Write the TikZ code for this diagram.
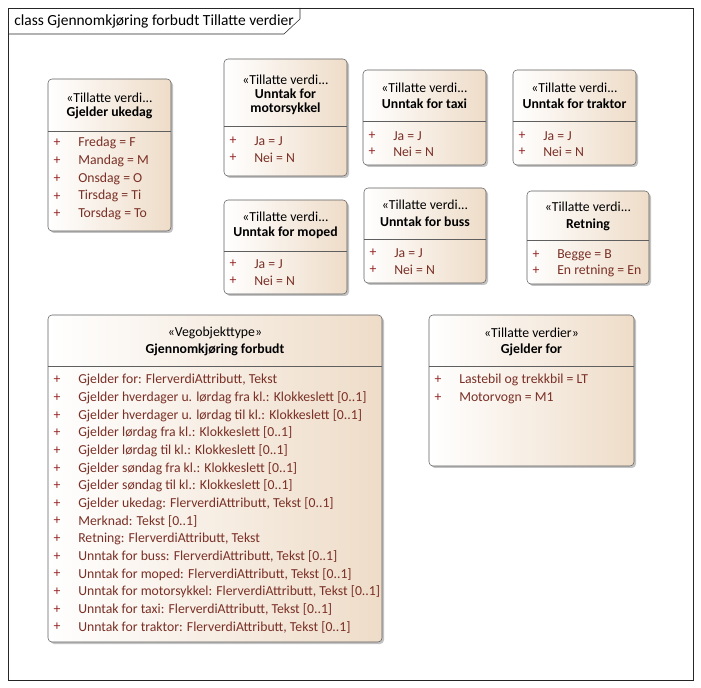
\documentclass[tikz,border=0pt]{standalone}
\usepackage{fontspec}
\setmainfont{Carlito}
\definecolor{boxedge}{RGB}{95,95,95}
\definecolor{boxfill}{RGB}{238,220,200}
\definecolor{attrtext}{RGB}{122,48,38}
\definecolor{plustext}{RGB}{150,38,38}
\definecolor{shadowgray}{RGB}{195,195,195}

\begin{document}
\begin{tikzpicture}[x=0.75pt,y=-0.75pt,
    every node/.style={font=\fontsize{10.3}{10.6}\selectfont,inner sep=0pt},
    classname/.style={font=\fontsize{10.3}{10.6}\selectfont\bfseries,align=center},
    plus/.style={text=plustext},
    attr/.style={text=attrtext,anchor=west},
    boxshadow/.style={fill=shadowgray,rounded corners=3},
    boxshade/.style={left color=white,right color=boxfill,rounded corners=3},
    boxline/.style={draw=boxedge,rounded corners=3}]
\useasboundingbox (0,0) rectangle (701,688);

% diagram frame
\draw[black!85] (8,8) rectangle (693,680);
\draw[black!85] (8,34) -- (284,34) -- (300,19) -- (300,8);
\node[anchor=west,font=\fontsize{11.6}{12}\selectfont] (frametitle) at (14,21) {class Gjennomkjøring forbudt Tillatte verdier};

% class boxes
\foreach \xa/\ya/\xb/\yb/\yd in {48/79/171/231/131, 224/59/347/176/126,
    363/70/486/165/121, 513/70/636/165/121, 224/200/347/294/251,
    364/188/486/283/239, 527/191/649/284/240, 48/315/382/642/366,
    429/315/634/466/366}{
  \fill[boxshadow] (\xa+2,\ya+2) rectangle (\xb+2,\yb+2);
  \shade[boxshade] (\xa,\ya) rectangle (\xb,\yb);
  \draw[boxline] (\xa,\ya) rectangle (\xb,\yb);
  \draw[boxedge] (\xa,\yd) -- (\xb,\yd);
}

% Gjelder ukedag
\node (ukedagS) at (109.5,98) {«Tillatte verdi...};
\node[classname] (ukedagN) at (109.5,113) {Gjelder ukedag};
\foreach \t [count=\i] in {Fredag = F, Mandag = M, Onsdag = O, Tirsdag = Ti, Torsdag = To}{
  \node[plus] (ukedagP\i) at (57,125.2+17.8*\i) {+};
  \node[attr] (ukedagA\i) at (78,125.2+17.8*\i) {\t};
}

% Unntak for motorsykkel
\node (motorS) at (285.5,80) {«Tillatte verdi...};
\node[classname] (motorN) at (285.5,102) {Unntak for\\motorsykkel};
\node[plus] (motorP1) at (233,141) {+};
\node[attr] (motorA1) at (254,141) {Ja = J};
\node[plus] (motorP2) at (233,158) {+};
\node[attr] (motorA2) at (254,158) {Nei = N};

% Unntak for taxi
\node (taxiS) at (424.5,88) {«Tillatte verdi...};
\node[classname] (taxiN) at (424.5,104) {Unntak for taxi};
\node[plus] (taxiP1) at (372,136) {+};
\node[attr] (taxiA1) at (393,136) {Ja = J};
\node[plus] (taxiP2) at (372,152) {+};
\node[attr] (taxiA2) at (393,152) {Nei = N};

% Unntak for traktor
\node (traktorS) at (574.5,88) {«Tillatte verdi...};
\node[classname] (traktorN) at (574.5,104) {Unntak for traktor};
\node[plus] (traktorP1) at (522,136) {+};
\node[attr] (traktorA1) at (543,136) {Ja = J};
\node[plus] (traktorP2) at (522,152) {+};
\node[attr] (traktorA2) at (543,152) {Nei = N};

% Unntak for moped
\node (mopedS) at (285.5,217) {«Tillatte verdi...};
\node[classname] (mopedN) at (285.5,233) {Unntak for moped};
\node[plus] (mopedP1) at (233,264) {+};
\node[attr] (mopedA1) at (254,264) {Ja = J};
\node[plus] (mopedP2) at (233,281) {+};
\node[attr] (mopedA2) at (254,281) {Nei = N};

% Unntak for buss
\node (bussS) at (425,205) {«Tillatte verdi...};
\node[classname] (bussN) at (425,222) {Unntak for buss};
\node[plus] (bussP1) at (373,253) {+};
\node[attr] (bussA1) at (394,253) {Ja = J};
\node[plus] (bussP2) at (373,270) {+};
\node[attr] (bussA2) at (394,270) {Nei = N};

% Retning
\node (retningS) at (588,207) {«Tillatte verdi...};
\node[classname] (retningN) at (588,225) {Retning};
\node[plus] (retningP1) at (536,255) {+};
\node[attr] (retningA1) at (557,255) {Begge = B};
\node[plus] (retningP2) at (536,271) {+};
\node[attr] (retningA2) at (557,271) {En retning = En};

% Gjennomkjoring forbudt
\node (vegS) at (215,333) {«Vegobjekttype»};
\node[classname] (vegN) at (215,350) {Gjennomkjøring forbudt};
\foreach \t [count=\i] in {{Gjelder for: FlerverdiAttributt, Tekst},
    {Gjelder hverdager u. lørdag fra kl.: Klokkeslett [0..1]},
    {Gjelder hverdager u. lørdag til kl.: Klokkeslett [0..1]},
    {Gjelder lørdag fra kl.: Klokkeslett [0..1]},
    {Gjelder lørdag til kl.: Klokkeslett [0..1]},
    {Gjelder søndag fra kl.: Klokkeslett [0..1]},
    {Gjelder søndag til kl.: Klokkeslett [0..1]},
    {Gjelder ukedag: FlerverdiAttributt, Tekst [0..1]},
    {Merknad: Tekst [0..1]},
    {Retning: FlerverdiAttributt, Tekst},
    {Unntak for buss: FlerverdiAttributt, Tekst [0..1]},
    {Unntak for moped: FlerverdiAttributt, Tekst [0..1]},
    {Unntak for motorsykkel: FlerverdiAttributt, Tekst [0..1]},
    {Unntak for taxi: FlerverdiAttributt, Tekst [0..1]},
    {Unntak for traktor: FlerverdiAttributt, Tekst [0..1]}}{
  \node[plus] (vegP\i) at (57,362.35+17.65*\i) {+};
  \node[attr] (vegA\i) at (78,362.35+17.65*\i) {\t};
}

% Gjelder for
\node (forS) at (531.5,333) {«Tillatte verdier»};
\node[classname] (forN) at (531.5,350) {Gjelder for};
\node[plus] (forP1) at (438,380) {+};
\node[attr] (forA1) at (459,380) {Lastebil og trekkbil = LT};
\node[plus] (forP2) at (438,398) {+};
\node[attr] (forA2) at (459,398) {Motorvogn = M1};
\end{tikzpicture}
\end{document}
